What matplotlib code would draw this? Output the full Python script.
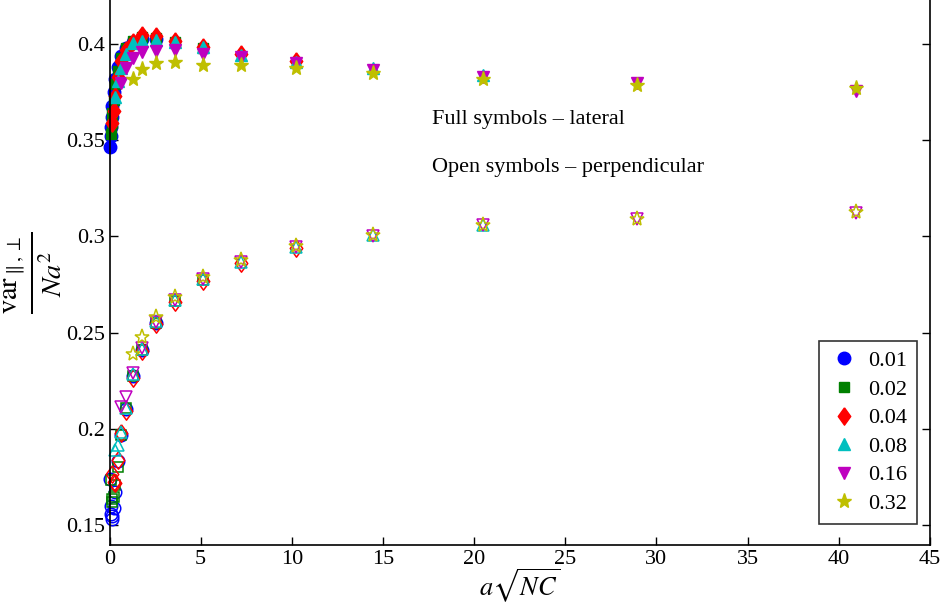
import matplotlib
matplotlib.use("Agg")
import matplotlib.pyplot as plt

plt.rcParams['font.family'] = ['Liberation Serif', 'DejaVu Serif']
plt.rcParams['mathtext.fontset'] = 'stix'

# concentration values, one series each
labels = ['0.01', '0.02', '0.04', '0.08', '0.16', '0.32']
colors = [(0, 0, 1), (0, 0.5, 0), (1, 0, 0), (0, 0.75, 0.75), (0.75, 0, 0.75), (0.75, 0.75, 0)]
# wide diamond like the matlab one
diamond = [(0, 1), (0.72, 0), (0, -1), (-0.72, 0), (0, 1)]
markers = ['o', 's', diamond, '^', 'v', '*']
msizes = [9, 6.5, 12.5, 9, 9, 11]

# a*sqrt(N*C) for each series
x_001 = [0.04, 0.057, 0.08, 0.113, 0.16, 0.226, 0.32, 0.453, 0.64, 0.905, 1.28, 1.81, 2.56]
x_002 = [0.08, 0.113, 0.16, 0.226, 0.32, 0.453, 0.64, 0.905, 1.28, 1.81, 2.56, 3.62, 5.12]
x_004 = [0.16, 0.226, 0.32, 0.453, 0.64, 0.905, 1.28, 1.81, 2.56, 3.62, 5.12, 7.24, 10.24]
x_008 = [0.32, 0.453, 0.64, 0.905, 1.28, 1.81, 2.56, 3.62, 5.12, 7.24, 10.24, 14.48, 20.48]
x_016 = [0.64, 0.905, 1.28, 1.81, 2.56, 3.62, 5.12, 7.24, 10.24, 14.48, 20.48, 28.96, 40.96]
x_032 = [1.28, 1.81, 2.56, 3.62, 5.12, 7.24, 10.24, 14.48, 20.48, 28.96, 40.96]

# lateral variance (full symbols)
lat_001 = [0.3465, 0.352, 0.357, 0.362, 0.368, 0.375, 0.382, 0.388, 0.394, 0.398, 0.401, 0.4025, 0.4025]
lat_002 = [0.3535, 0.359, 0.364, 0.371, 0.379, 0.386, 0.393, 0.398, 0.4015, 0.4035, 0.403, 0.401, 0.398]
lat_004 = [0.359, 0.365, 0.373, 0.383, 0.391, 0.397, 0.401, 0.4045, 0.404, 0.4015, 0.3985, 0.395, 0.391]
lat_008 = [0.3726, 0.381, 0.3874, 0.395, 0.4004, 0.4015, 0.402, 0.401, 0.3985, 0.3945, 0.3908, 0.3874, 0.3839]
lat_016 = [0.380, 0.3874, 0.3926, 0.396, 0.3965, 0.397, 0.395, 0.3934, 0.390, 0.3865, 0.3827, 0.3796, 0.3757]
lat_032 = [0.3817, 0.3868, 0.390, 0.3908, 0.389, 0.389, 0.3874, 0.3851, 0.3817, 0.3787, 0.377]

# perpendicular variance (open symbols)
perp_001 = [0.174, 0.160, 0.1555, 0.153, 0.1545, 0.159, 0.167, 0.1835, 0.197, 0.2105, 0.2275, 0.2412, 0.255]
perp_002 = [0.1735, 0.1635, 0.1618, 0.1645, 0.1708, 0.1803, 0.197, 0.2107, 0.2275, 0.241, 0.2548, 0.2665, 0.2775]
perp_004 = [0.1765, 0.1725, 0.172, 0.1838, 0.1977, 0.2095, 0.2265, 0.2405, 0.2545, 0.266, 0.277, 0.2862, 0.294]
perp_008 = [0.189, 0.1915, 0.1985, 0.211, 0.2285, 0.2415, 0.256, 0.267, 0.278, 0.2868, 0.2945, 0.3005, 0.306]
perp_016 = [0.2115, 0.2167, 0.229, 0.242, 0.2555, 0.2668, 0.2778, 0.2865, 0.2943, 0.3003, 0.3058, 0.309, 0.3123]
perp_032 = [0.239, 0.2476, 0.2583, 0.2687, 0.279, 0.2877, 0.2948, 0.3008, 0.3062, 0.3093, 0.3128]

xs = [x_001, x_002, x_004, x_008, x_016, x_032]
lats = [lat_001, lat_002, lat_004, lat_008, lat_016, lat_032]
perps = [perp_001, perp_002, perp_004, perp_008, perp_016, perp_032]

fig = plt.figure(figsize=(9.44, 6.05), dpi=100)
ax = fig.add_axes([0.116, 0.0997, 0.869, 0.9003])

handles = []
for x, lat, c, m, ms, lab in zip(xs, lats, colors, markers, msizes, labels):
    h, = ax.plot(x, lat, linestyle='none', marker=m, markersize=ms,
                 color=c, markeredgecolor=c, label=lab, clip_on=False)
    handles.append(h)
for x, perp, c, m, ms in zip(xs, perps, colors, markers, msizes):
    ax.plot(x, perp, linestyle='none', marker=m, markersize=ms,
            markerfacecolor='none', markeredgecolor=c, markeredgewidth=1.1,
            clip_on=False)

ax.set_xlim(0, 45)
ax.set_ylim(0.1398, 0.4229)
ax.set_xticks(range(0, 50, 5))
ax.set_yticks([0.15, 0.2, 0.25, 0.3, 0.35, 0.4])
ax.set_yticklabels(['0.15', '0.2', '0.25', '0.3', '0.35', '0.4'])
ax.tick_params(direction='in', top=False, right=True, labelsize=16, length=6, width=1)
ax.spines['top'].set_visible(False)
for s in ax.spines.values():
    s.set_linewidth(1.2)

ax.set_xlabel(r'$a\sqrt{NC}$', fontsize=19, labelpad=-1)
ax.set_ylabel(r'$\frac{\mathrm{var}_{\parallel,\perp}}{Na^2}$', fontsize=29, labelpad=2)

ax.text(17.7, 0.361, 'Full symbols \u2013 lateral', fontsize=16, va='center')
ax.text(17.7, 0.336, 'Open symbols \u2013 perpendicular', fontsize=16, va='center')

leg = ax.legend(handles=handles, loc='lower right', bbox_to_anchor=(0.984, 0.038),
                borderaxespad=0, fontsize=16, frameon=True, fancybox=False,
                edgecolor='black', handlelength=1.4, handletextpad=0.35,
                borderpad=0.45, labelspacing=0.36, numpoints=1)
leg.get_frame().set_linewidth(1.2)

fig.savefig('out.png', dpi=100)
